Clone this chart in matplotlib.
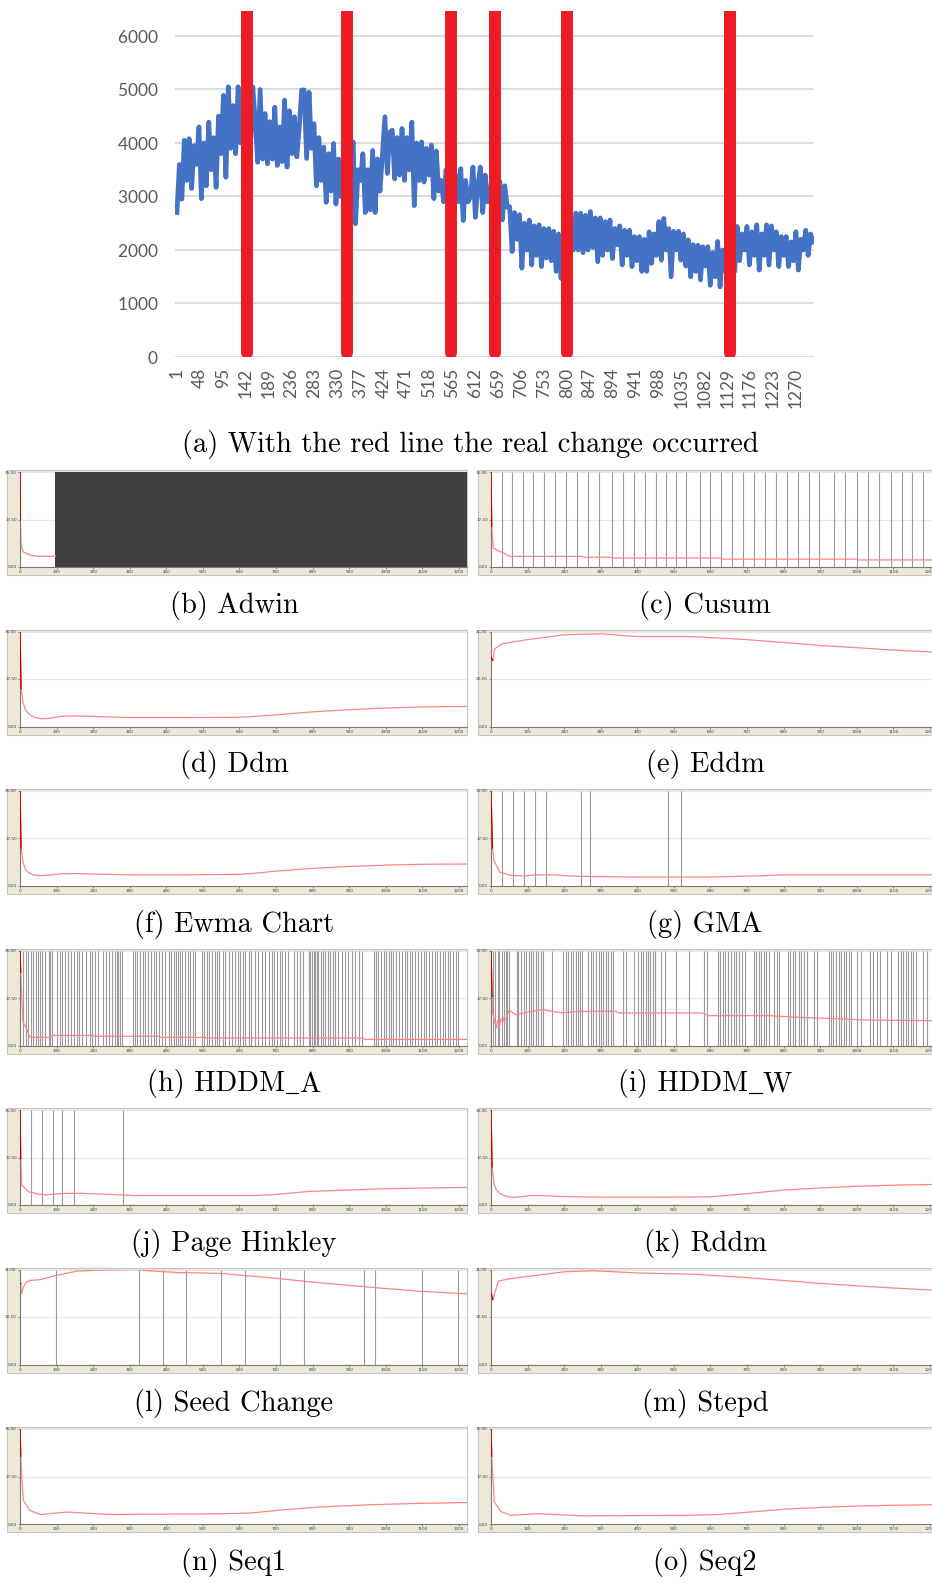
import numpy as np
import matplotlib.pyplot as plt
from matplotlib.patches import Rectangle
from matplotlib.lines import Line2D

W, H = 932, 1583

# ---- (a) data stream, values every ~5 samples ----
stream_len = 1305
stream_values = [
    2700, 3600, 2950, 4050, 3300, 4080, 3150, 3950, 3600, 4300, 2960, 4000,
    3200, 4390, 3500, 4100, 3170, 4500, 3800, 4890, 3360, 5050, 3900, 4700,
    3800, 5050, 4000, 4600, 3700, 4900, 3900, 5050, 4400, 3640, 5000, 3700,
    4550, 3610, 4400, 3700, 4670, 3580, 4300, 3650, 4800, 3550, 4600, 3800,
    4490, 3740, 4300, 4990, 4990, 3710, 4950, 3900, 4360, 3200, 4100, 3300,
    3925, 2890, 3800, 3100, 3990, 2860, 3700, 3000, 3800, 2800, 3950, 3300,
    4020, 2490, 3500, 3300, 3800, 2700, 3500, 2750, 3860, 2700, 3700, 3100,
    3800, 4490, 3430, 4200, 4240, 3330, 4100, 3400, 4270, 3300, 4100, 3500,
    4390, 2830, 4000, 3300, 4020, 3270, 3900, 3400, 3960, 2960, 3850, 3100,
    3300, 2900, 3500, 3000, 3200, 2800, 3400, 2900, 3520, 2550, 3300, 2900,
    3000, 3550, 2610, 3200, 3550, 2700, 3400, 2900, 3000, 3500, 2950, 3300,
    3280, 2560, 3200, 2800, 2810, 1970, 2700, 2200, 2660, 1660, 2500, 2000,
    2560, 1720, 2450, 1900, 2470, 1690, 2400, 1850, 2400, 1800, 2350, 1600,
    2300, 1470, 2100, 1550, 1900, 2500, 2000, 2690, 2000, 2690, 1950, 2650,
    2000, 2720, 2050, 2600, 1780, 2600, 1900, 2530, 2000, 2560, 1840, 2400,
    2100, 2450, 1720, 2370, 1900, 2370, 1690, 2250, 1800, 2250, 1600, 2200,
    1600, 2340, 1750, 2300, 1900, 2530, 1810, 2590, 2000, 2400, 1500, 2350,
    2000, 2350, 1810, 2300, 1700, 2190, 1500, 2100, 1600, 2090, 1440, 2060,
    1700, 2060, 1340, 1950, 1500, 2160, 1310, 2000, 1600, 2000, 1400, 2100,
    1600, 2440, 1800, 2300, 2000, 2440, 1720, 2340, 1900, 2470, 1625, 2300,
    1900, 2470, 1720, 2450, 2000, 2340, 1690, 2250, 1900, 2250, 1690, 2150,
    1800, 2340, 1625, 2200, 2000, 2370, 1900, 2300, 2150,
]
change_points = [144, 349, 562, 652, 800, 1135]
tick_cats = list(range(1, 1271, 47))

# ---- detector panels: accuracy curves and detection points ----
adwin_x = [0, 1, 3, 6, 10, 20, 30, 45, 60, 80, 97]
adwin_y = [35, 17.5, 9, 6.5, 5.5, 4.8, 4.3, 4.0, 3.9, 3.9, 4.1]
adwin_dense_from = 97

cusum_x = [0, 2, 6, 20, 34, 50, 250, 255, 330, 335, 625, 630, 1000, 1005, 1222]
cusum_y = [35, 15, 7, 6, 5.2, 3.9, 3.9, 3.6, 3.6, 3.3, 3.3, 2.9, 2.9, 2.6, 2.6]
cusum_lines = [29, 58, 88, 115, 145, 175, 205, 234, 264, 295, 332, 361, 391, 420,
               450, 479, 506, 534, 570, 599, 629, 659, 690, 720, 750, 779, 809,
               838, 870, 897, 938, 968, 1000, 1031, 1061, 1093, 1123, 1152, 1181]

ddm_x = [0, 3, 8, 15, 25, 40, 60, 80, 110, 150, 200, 300, 450, 600, 650, 700, 800, 900, 1000, 1100, 1222]
ddm_y = [35, 14, 9, 6, 4.5, 3.3, 2.8, 3.0, 3.7, 3.9, 3.7, 3.3, 3.3, 3.4, 3.8, 4.3, 5.4, 6.2, 6.8, 7.2, 7.4]

eddm_x = [0, 5, 10, 30, 100, 200, 300, 400, 550, 700, 900, 1100, 1222]
eddm_y = [30, 28.5, 33.5, 35.7, 37.5, 39.6, 40, 38.8, 38.8, 37.5, 35, 33, 32]

ewma_x = ddm_x
ewma_y = [35, 14, 9, 6, 4.8, 4.0, 3.8, 4.0, 4.5, 4.6, 4.4, 4.1, 4.1, 4.3, 4.8, 5.5, 6.5, 7.2, 7.7, 8.0, 8.1]

gma_x = [0, 4, 8, 25, 52, 89, 126, 171, 217, 263, 400, 600, 720, 795, 1222]
gma_y = [35, 14, 9.4, 5, 4, 3.7, 4.1, 4.1, 3.7, 3.5, 3.3, 3.3, 3.7, 4.1, 4.1]
gma_lines = [31, 61, 91, 119, 150, 245, 272, 485, 520]

hddma_x = [0, 2, 5, 8, 18, 27, 36, 82, 91, 200, 205, 380, 385, 505, 510, 938, 942, 1222]
hddma_y = [35, 27, 17, 8.7, 6.2, 3.1, 3.0, 3.0, 3.7, 3.7, 3.4, 3.4, 3.0, 3.0, 2.75, 2.75, 2.25, 2.25]
hddma_lines = [
    9, 16, 23, 29, 36, 44, 48, 55, 61, 68, 78, 82, 87, 100, 108, 114, 123, 132,
    139, 148, 155, 162, 169, 181, 190, 196, 205, 212, 228, 235, 244, 251, 260,
    264, 269, 274, 278, 308, 315, 321, 328, 336, 342, 351, 358, 365, 372, 381,
    388, 397, 406, 412, 420, 426, 433, 438, 444, 451, 458, 465, 472, 478, 497,
    503, 511, 518, 524, 532, 538, 545, 554, 561, 570, 579, 588, 595, 602, 609,
    616, 625, 631, 643, 652, 661, 670, 682, 689, 695, 702, 710, 716, 725, 734,
    748, 757, 766, 775, 789, 793, 798, 803, 807, 812, 816, 823, 828, 834, 841,
    848, 855, 862, 868, 880, 889, 898, 907, 917, 926, 935, 969, 974, 980, 987,
    994, 1001, 1008, 1014, 1021, 1029, 1036, 1044, 1052, 1058, 1065, 1073,
    1081, 1088, 1096, 1104, 1111, 1119, 1126, 1134, 1140, 1147, 1156, 1163,
    1170, 1176, 1184, 1191, 1198,
]

hddmw_x = [0, 3, 4.5, 9, 14, 18, 23, 27, 32, 36, 41, 45, 50, 68, 95, 141, 177, 195,
           241, 341, 350, 577, 595, 759, 850, 923, 1023, 1222]
hddmw_y = [35, 18, 12, 9.5, 6.3, 9.2, 7, 9.8, 8.5, 10.5, 9.5, 11.5, 13.0, 11.3, 12.2,
           13.2, 12.4, 12.0, 12.6, 12.6, 12.0, 12.0, 11.0, 11.0, 10.3, 10.0, 9.4, 9.1]
hddmw_lines = [
    6, 12, 18, 23, 29, 35, 41, 45, 50, 70, 75, 82, 89, 95, 103, 109, 115, 123,
    129, 136, 143, 166, 198, 205, 211, 218, 225, 232, 238, 244, 250, 266, 273,
    279, 286, 294, 300, 307, 314, 321, 327, 334, 361, 368, 391, 403, 409, 415,
    423, 429, 436, 443, 448, 466, 477, 505, 541, 582, 591, 621, 627, 634, 641,
    648, 655, 664, 671, 679, 686, 694, 718, 725, 732, 739, 745, 753, 759, 773,
    782, 788, 812, 818, 825, 832, 841, 848, 855, 863, 882, 891, 923, 930, 936,
    944, 950, 957, 964, 971, 979, 985, 1000, 1012, 1036, 1045, 1055, 1064,
    1082, 1094, 1114, 1121, 1127, 1134, 1141, 1148, 1155, 1161, 1182, 1191,
]

ph_x = [0, 2, 5, 23, 50, 70, 120, 170, 260, 310, 650, 700, 790, 900, 970, 1120, 1222]
ph_y = [35, 17, 7.3, 4.9, 4.0, 3.7, 4.3, 4.3, 3.8, 3.5, 3.5, 3.9, 5.0, 5.5, 5.9, 6.3, 6.5]
ph_lines = [31, 60, 89, 116, 147, 281]

rddm_x = ddm_x
rddm_y = [35, 14, 8, 5.5, 4.2, 3.2, 2.8, 3.0, 3.5, 3.4, 3.1, 2.9, 2.9, 3.0, 3.6, 4.2, 5.5, 6.3, 6.9, 7.3, 7.6]

seed_x = [0, 2, 4, 9, 18, 28, 55, 73, 101, 156, 220, 312, 358, 431, 495, 550, 615, 706, 798, 954, 1092, 1222]
seed_y = [35, 34.9, 30.5, 33.4, 35.6, 36.3, 36.6, 37.4, 38.5, 40.3, 40.7, 41, 40.4, 39.7,
          39.5, 39.3, 38.4, 37.1, 35.6, 33.4, 31.6, 30.5]
seed_lines = [99, 326, 390, 454, 550, 615, 711, 777, 940, 970, 1099, 1197]

stepd_x = [0, 5, 20, 50, 100, 200, 280, 400, 550, 700, 900, 1100, 1222]
stepd_y = [31, 28, 36, 37, 38, 40, 40.5, 39.5, 39, 37.5, 35, 33, 32]

seq1_x = [0, 2, 5, 9, 27, 55, 128, 248, 532, 624, 725, 817, 954, 1092, 1222]
seq1_y = [35, 25, 17.5, 8.75, 5, 3.5, 4.4, 3.5, 3.75, 4, 5.25, 6.25, 7.1, 7.6, 7.9]

seq2_x = seq1_x
seq2_y = [35, 25, 17.5, 8.2, 4.6, 3.2, 3.8, 3.0, 3.2, 3.5, 4.6, 5.6, 6.4, 6.9, 7.1]

panels = [
    ('(b) Adwin', adwin_x, adwin_y, [], 35),
    ('(c) Cusum', cusum_x, cusum_y, cusum_lines, 35),
    ('(d) Ddm', ddm_x, ddm_y, [], 35),
    ('(e) Eddm', eddm_x, eddm_y, [], 41),
    ('(f) Ewma Chart', ewma_x, ewma_y, [], 35),
    ('(g) GMA', gma_x, gma_y, gma_lines, 35),
    ('(h) HDDM_A', hddma_x, hddma_y, hddma_lines, 35),
    ('(i) HDDM_W', hddmw_x, hddmw_y, hddmw_lines, 35),
    ('(j) Page Hinkley', ph_x, ph_y, ph_lines, 35),
    ('(k) Rddm', rddm_x, rddm_y, [], 35),
    ('(l) Seed Change', seed_x, seed_y, seed_lines, 41),
    ('(m) Stepd', stepd_x, stepd_y, [], 41),
    ('(n) Seq1', seq1_x, seq1_y, [], 35),
    ('(o) Seq2', seq2_x, seq2_y, [], 35),
]

serif = ['cmr10', 'DejaVu Serif']
CAP_SIZE = 20.5
plt.rcParams['axes.formatter.use_mathtext'] = True

fig = plt.figure(figsize=(W / 100, H / 100), dpi=100)
renderer = fig.canvas.get_renderer()


def px_axes(x0, y0, x1, y1):
    return fig.add_axes([x0 / W, 1 - y1 / H, (x1 - x0) / W, (y1 - y0) / H])


def caption(cx, cy, text):
    # cy is the vertical centre in px from top; cmr10 can't draw "_", so the
    # underscore is drawn as a short rule between two text pieces
    base = 1 - (cy + 7) / H
    if '_' not in text:
        fig.text(cx / W, base, text, ha='center', va='baseline',
                 fontsize=CAP_SIZE, family=serif)
        return
    left, right = text.split('_')
    tl = fig.text(0, base, left, ha='left', va='baseline', fontsize=CAP_SIZE, family=serif)
    tr = fig.text(0, base, right, ha='left', va='baseline', fontsize=CAP_SIZE, family=serif)
    wl = tl.get_window_extent(renderer).width
    wr = tr.get_window_extent(renderer).width
    wu = CAP_SIZE * 0.5 * 100 / 72
    x0 = cx - (wl + wu + wr) / 2
    tl.set_x(x0 / W)
    tr.set_x((x0 + wl + wu) / W)
    uy = base - 1.0 / H
    fig.add_artist(Line2D([(x0 + wl + 1) / W, (x0 + wl + wu - 1) / W], [uy, uy],
                          transform=fig.transFigure, color='black', lw=0.9))


# ---- top chart ----
ax = px_axes(175, 11, 814, 357)
xs = np.linspace(1, stream_len, len(stream_values))
ax.plot(xs, stream_values, color='#4472C4', lw=3.4, solid_joinstyle='round', zorder=2)
for cp in change_points:
    ax.plot([cp, cp], [70, 7000], color='#ED1C24', lw=8.6, solid_capstyle='round', zorder=3)
ax.set_xlim(-3, 1307)
ax.set_ylim(0, 6467)
ax.set_yticks(range(0, 6001, 1000))
ax.set_xticks(tick_cats)
ax.set_xticklabels([str(t) for t in tick_cats], rotation=90)
ax.grid(axis='y', color='#D9D9D9', lw=1.3)
ax.set_axisbelow(True)
ax.tick_params(length=0, labelsize=12.5, labelcolor='#595959')
ax.tick_params(axis='y', pad=12)
ax.tick_params(axis='x', pad=8)
for lab in ax.get_xticklabels() + ax.get_yticklabels():
    lab.set_family('Lato')
for s in ax.spines.values():
    s.set_visible(False)

caption(470, 445, '(a) With the red line the real change occurred')

# ---- detector panels ----
for i, (title, cx, cy, lines, ymax) in enumerate(panels):
    row, col = divmod(i, 2)
    top = 470 + 159.5 * row
    if col == 0:
        ox0, ox1, ax0, ax1, cap_x = 7, 467, 20, 467, 234
    else:
        ox0, ox1, ax0, ax1, cap_x = 478, 940, 491, 938, 705
    fig.patches.append(Rectangle((ox0 / W, 1 - (top + 105) / H), (ox1 - ox0) / W, 105 / H,
                                 transform=fig.transFigure, facecolor='#ECE9D8',
                                 edgecolor='#C4C4C4', lw=0.8, zorder=0))
    a = px_axes(ax0, top + 2, ax1, top + 97)
    a.set_zorder(2)
    a.set_facecolor('white')
    a.set_xlim(0, 1222)
    a.set_ylim(0, ymax)
    if title == '(b) Adwin':
        a.axvspan(adwin_dense_from, 1222, color='#404040', lw=0, zorder=1)
    if lines:
        a.vlines(lines, 0, ymax, colors='#9A9A9A', lw=0.8, zorder=1)
    a.plot(cx, cy, color='#FF8585', lw=0.9, zorder=2)
    a.plot(cx[:2], cy[:2], color='#C00000', lw=0.9, zorder=3)
    a.set_xticks(range(0, 1201, 100))
    a.set_xticklabels([str(v) for v in range(0, 1201, 100)])
    yt = [0, ymax / 2, ymax]
    a.set_yticks(yt)
    a.set_yticklabels([f'{v:.2f}'.replace('.', ',') for v in yt])
    a.grid(axis='y', color='#E8E8E8', lw=0.8)
    a.set_axisbelow(True)
    a.tick_params(length=1.5, width=0.5, color='#606060', labelsize=3,
                  labelcolor='#404040', pad=0.8)
    for s in ['top', 'right']:
        a.spines[s].set_visible(False)
    for s in ['left', 'bottom']:
        a.spines[s].set_color('#7A7A7A')
        a.spines[s].set_linewidth(0.8)
    caption(cap_x, top + 136, title)

fig.savefig('out.png', dpi=100)
